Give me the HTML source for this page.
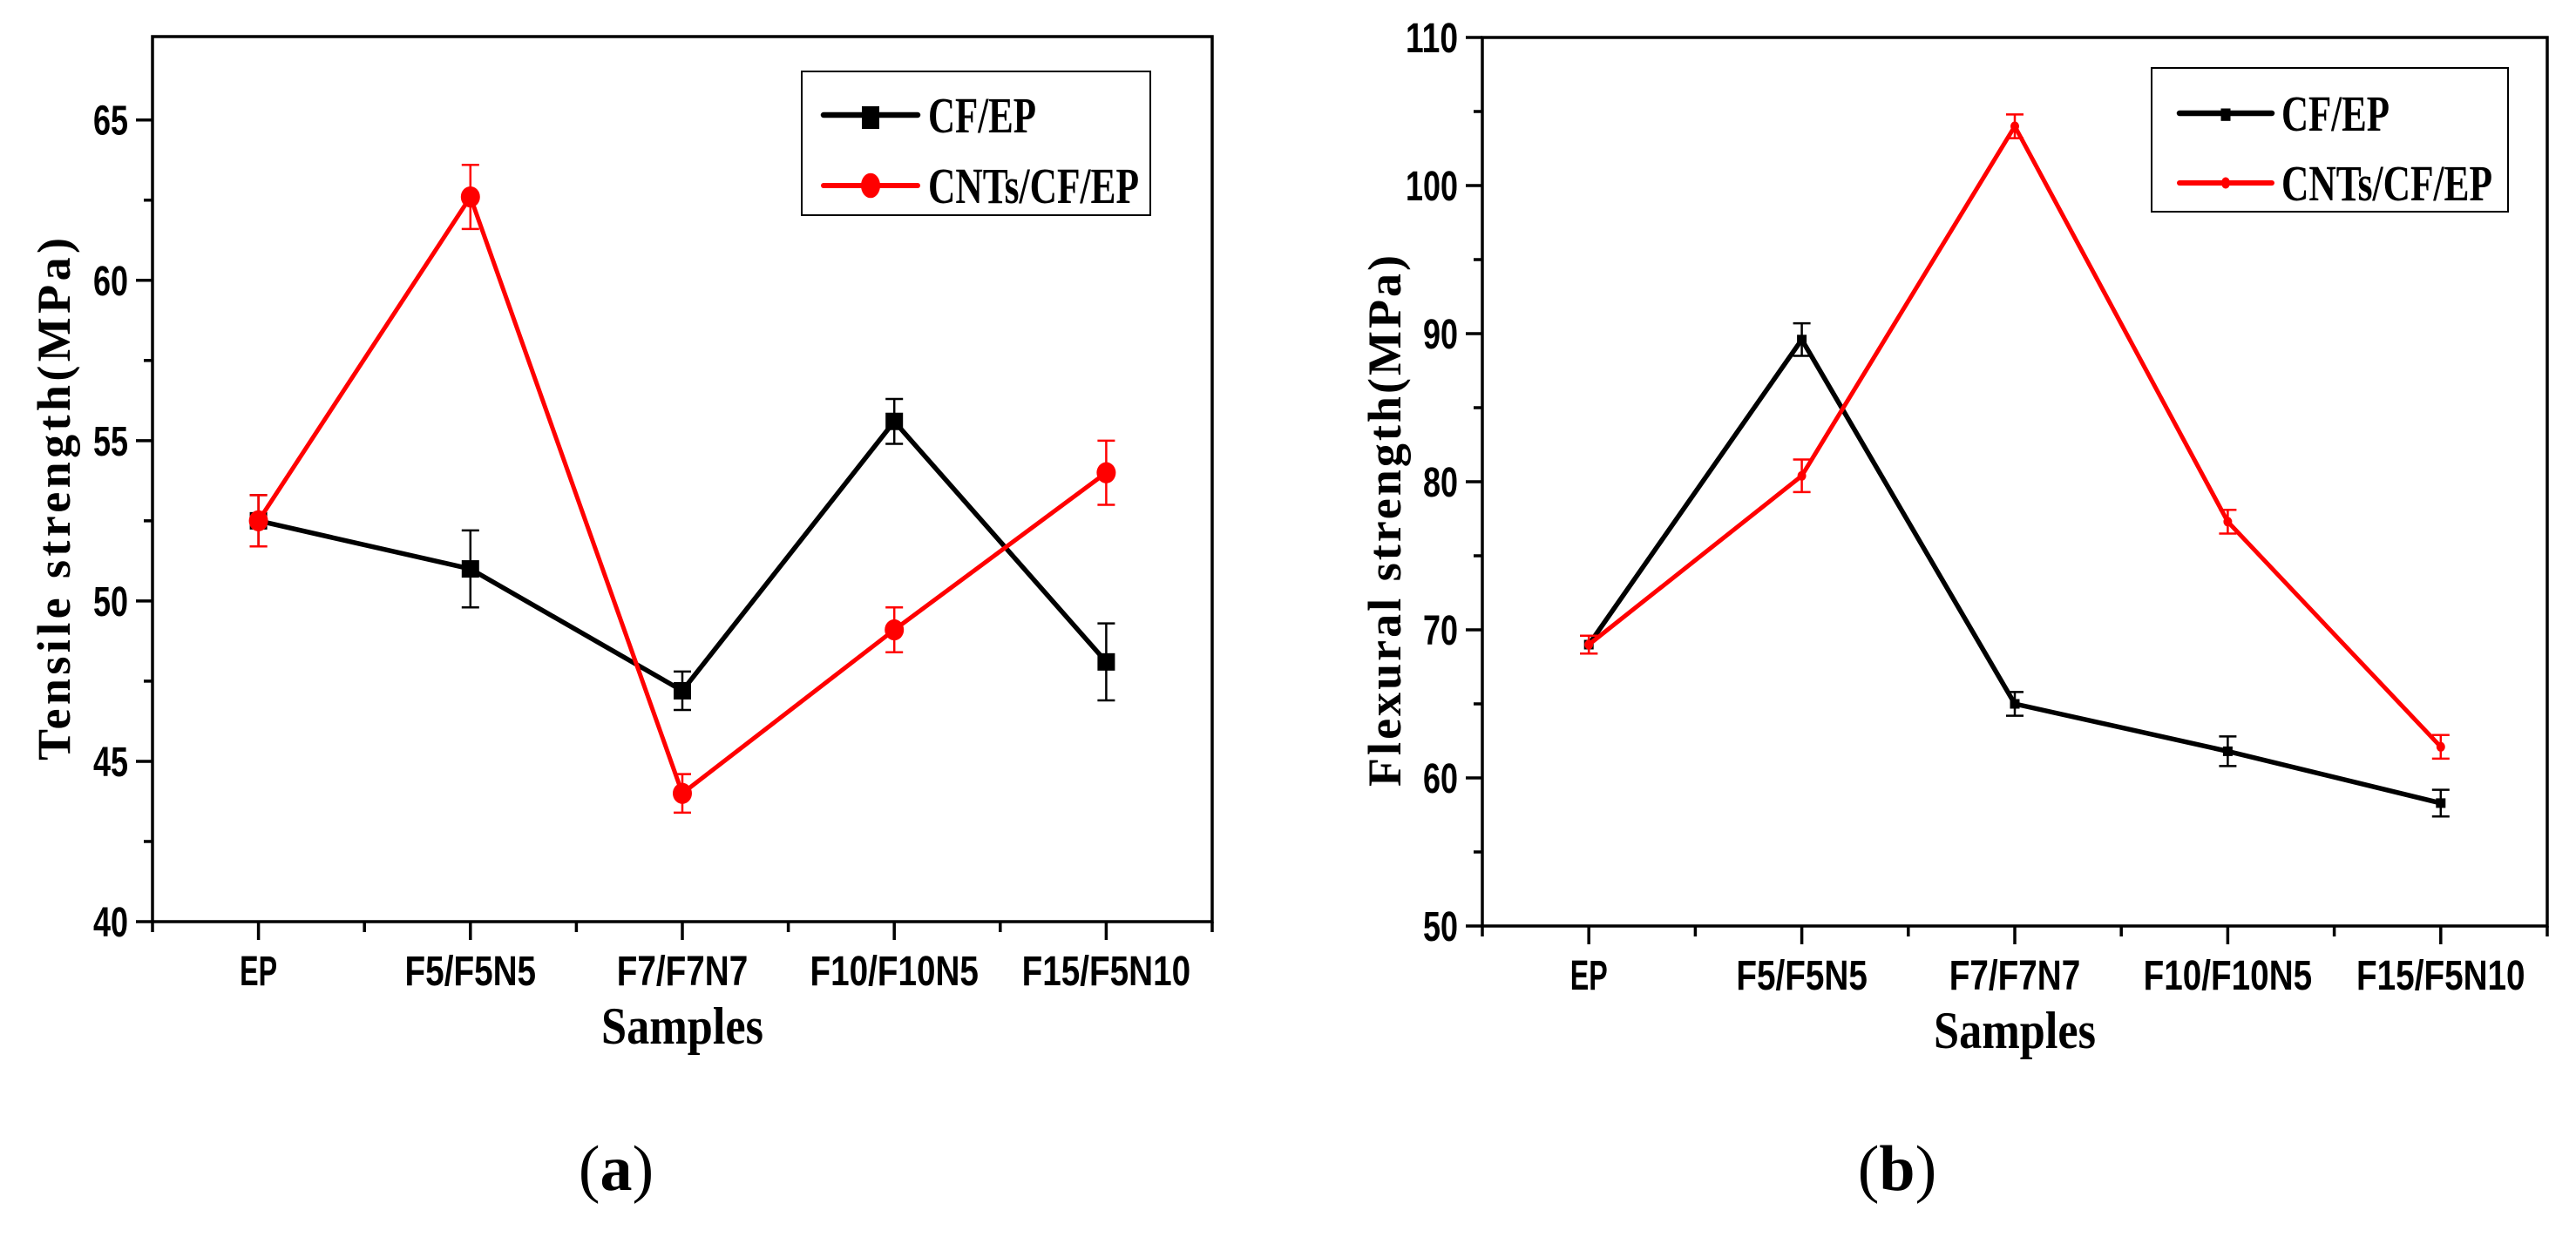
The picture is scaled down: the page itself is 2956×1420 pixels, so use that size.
<!DOCTYPE html>
<html><head><meta charset="utf-8"><style>
html,body{margin:0;padding:0;background:#fff;}
svg{display:block;}
.tick{font-family:"Liberation Sans",Arial,sans-serif;font-weight:bold;font-size:48px;}
.ser{font-family:"Liberation Serif","Times New Roman",serif;font-weight:bold;}
</style></head><body>
<svg id="fig" width="2956" height="1420" viewBox="0 0 2956 1420" xmlns="http://www.w3.org/2000/svg"></svg>
<script>
const categories = ["EP","F5/F5N5","F7/F7N7","F10/F10N5","F15/F5N10"];
const tensileCF = [52.5, 51.0, 47.2, 55.6, 48.1];
const tensileCFErr = [0.8, 1.2, 0.6, 0.7, 1.2];
const tensileCNT = [52.5, 62.6, 44.0, 49.1, 54.0];
const tensileCNTErr = [0.8, 1.0, 0.6, 0.7, 1.0];
const tensileTicks = [40, 45, 50, 55, 60, 65];
const flexCF = [69.0, 89.6, 65.0, 61.8, 58.3];
const flexCFErr = [0.6, 1.1, 0.8, 1.0, 0.9];
const flexCNT = [69.0, 80.4, 104.0, 77.3, 62.1];
const flexCNTErr = [0.6, 1.1, 0.8, 0.8, 0.8];
const flexTicks = [50, 60, 70, 80, 90, 100, 110];

const NS = "http://www.w3.org/2000/svg";
const svg = document.getElementById("fig");
function mk(tag, attrs, parent, text){
  const e = document.createElementNS(NS, tag);
  for (const k in attrs) e.setAttribute(k, attrs[k]);
  if (text !== undefined) e.textContent = text;
  (parent || svg).appendChild(e);
  return e;
}

function drawChart(o){
  const g = mk("g", {});
  
  
  const n = categories.length;
  const bw = (o.x1 - o.x0) / n;
  const xs = i => o.x0 + (i + 0.5) * bw;
  const ys = v => o.y1 - (v - o.ymin) / (o.ymax - o.ymin) * (o.y1 - o.y0);
  const fr = mk("rect", {x:o.x0, y:o.y0, width:o.x1-o.x0, height:o.y1-o.y0, fill:"none", stroke:"#000", "stroke-width":3.5}, g);
  
  
  const step = o.yTicks[1] - o.yTicks[0];
  o.yTicks.forEach((t, i) => {
    const y = ys(t);
    mk("line", {x1:o.x0-19, x2:o.x0, y1:y, y2:y, stroke:"#000", "stroke-width":3.5}, g);
    const lab = mk("text", {x:o.x0-28, y:y+17, "text-anchor":"end", class:"tick", textLength: String(t).length*20, lengthAdjust:"spacingAndGlyphs"}, g, String(t));
    
    
    if (i < o.yTicks.length - 1) {
      const ym = ys(t + step/2);
      mk("line", {x1:o.x0-10, x2:o.x0, y1:ym, y2:ym, stroke:"#000", "stroke-width":3.5}, g);
    }
  });
  for (let i = 0; i <= n; i++) {
    const xm = o.x0 + i*bw;
    mk("line", {x1:xm, x2:xm, y1:o.y1, y2:o.y1+12, stroke:"#000", "stroke-width":3.5}, g);
  }
  categories.forEach((c, i) => {
    const x = xs(i);
    mk("line", {x1:x, x2:x, y1:o.y1, y2:o.y1+21, stroke:"#000", "stroke-width":3.5}, g);
    const lab = mk("text", {x:x, y:o.y1+73, "text-anchor":"middle", class:"tick", textLength: c.length*21.5, lengthAdjust:"spacingAndGlyphs"}, g, c);
    
    
  });
  const xt = mk("text", {x:(o.x0+o.x1)/2, y:o.y1+140, "text-anchor":"middle", class:"ser", "font-size":60, textLength:186, lengthAdjust:"spacingAndGlyphs"}, g, "Samples");
  
  
  const yt = mk("text", {x:0, y:0, "text-anchor":"middle", class:"ser", "font-size":54, textLength:o.ytLen, lengthAdjust:"spacing", transform:`translate(${o.ytX},${o.ytY}) rotate(-90)`}, g, o.ytitle);
  
  
  o.series.forEach(s => {
    const sg = mk("g", {}, g);
    
    
    const pts = s.vals.map((v, i) => xs(i) + "," + ys(v)).join(" ");
    const pl = mk("polyline", {points:pts, fill:"none", stroke:s.color, "stroke-width":s.lw, "stroke-linejoin":"round"}, sg);
    
    
    s.vals.forEach((v, i) => {
      const x = xs(i), y = ys(v), e = s.err[i];
      const eb = mk("path", {d:`M${x},${ys(v+e)}V${ys(v-e)}M${x-10},${ys(v+e)}H${x+10}M${x-10},${ys(v-e)}H${x+10}`, stroke:s.color, "stroke-width":2.5, fill:"none"}, sg);
      
      
      let m;
      if (s.marker === "square") m = mk("rect", {x:x-s.ms/2, y:y-s.ms/2, width:s.ms, height:s.ms, fill:s.color}, sg);
      else m = mk("ellipse", {cx:x, cy:y, rx:s.ms/2, ry:s.ms/2*1.1, fill:s.color}, sg);
      
      
    });
  });
  const L = o.legend;
  const lg = mk("g", {}, g);
  
  
  mk("rect", {x:L.x, y:L.y, width:L.w, height:L.h, fill:"#fff", stroke:"#000", "stroke-width":2}, lg);
  o.series.forEach((s, i) => {
    const ly = L.rows[i];
    const le = mk("g", {}, lg);
    
    
    mk("line", {x1:L.lx0, x2:L.lx1, y1:ly, y2:ly, stroke:s.color, "stroke-width":s.lw+1, "stroke-linecap":"round"}, le);
    const mx = (L.lx0+L.lx1)/2;
    if (s.marker === "square") mk("rect", {x:mx-s.ms/2, y:ly-s.ms/2, width:s.ms, height:s.ms*1.3, fill:s.color}, le);
    else mk("ellipse", {cx:mx, cy:ly, rx:s.ms/2, ry:s.ms/2*1.3, fill:s.color}, le);
    mk("text", {x:L.tx, y:ly+20, class:"ser", "font-size":58, textLength:s.label.length === 5 ? 124 : 242, lengthAdjust:"spacingAndGlyphs"}, le, s.label);
  });
}

drawChart({
  name:"tensile-chart", x0:175, x1:1391, y0:42, y1:1058, ymin:40, ymax:67.6, yTicks:tensileTicks,
  ytitle:"Tensile strength(MPa)", ytX:80, ytY:573, ytLen:600,
  series:[
    {name:"series-cf-ep", label:"CF/EP", vals:tensileCF, err:tensileCFErr, color:"#000", lw:5.5, marker:"square", ms:20},
    {name:"series-cnts-cf-ep", label:"CNTs/CF/EP", vals:tensileCNT, err:tensileCNTErr, color:"#ff0000", lw:5, marker:"circle", ms:22}
  ],
  legend:{x:920, y:82, w:400, h:165, rows:[132,213], lx0:945, lx1:1053, tx:1065}
});
drawChart({
  name:"flexural-chart", x0:1701, x1:2923, y0:43, y1:1063, ymin:50, ymax:110, yTicks:flexTicks,
  ytitle:"Flexural strength(MPa)", ytX:1607, ytY:598, ytLen:610,
  series:[
    {name:"series-cf-ep", label:"CF/EP", vals:flexCF, err:flexCFErr, color:"#000", lw:5.5, marker:"square", ms:11},
    {name:"series-cnts-cf-ep", label:"CNTs/CF/EP", vals:flexCNT, err:flexCNTErr, color:"#ff0000", lw:5, marker:"circle", ms:10}
  ],
  legend:{x:2469, y:78, w:409, h:165, rows:[130,210], lx0:2501, lx1:2607, tx:2618}
});

const pa = mk("text", {x:707, y:1366, "text-anchor":"middle", "font-family":"Liberation Serif, serif", "font-size":74}, svg);


pa.innerHTML = '(<tspan font-weight="bold">a</tspan>)';
const pb = mk("text", {x:2177, y:1366, "text-anchor":"middle", "font-family":"Liberation Serif, serif", "font-size":74}, svg);


pb.innerHTML = '(<tspan font-weight="bold">b</tspan>)';
</script>
</body></html>
